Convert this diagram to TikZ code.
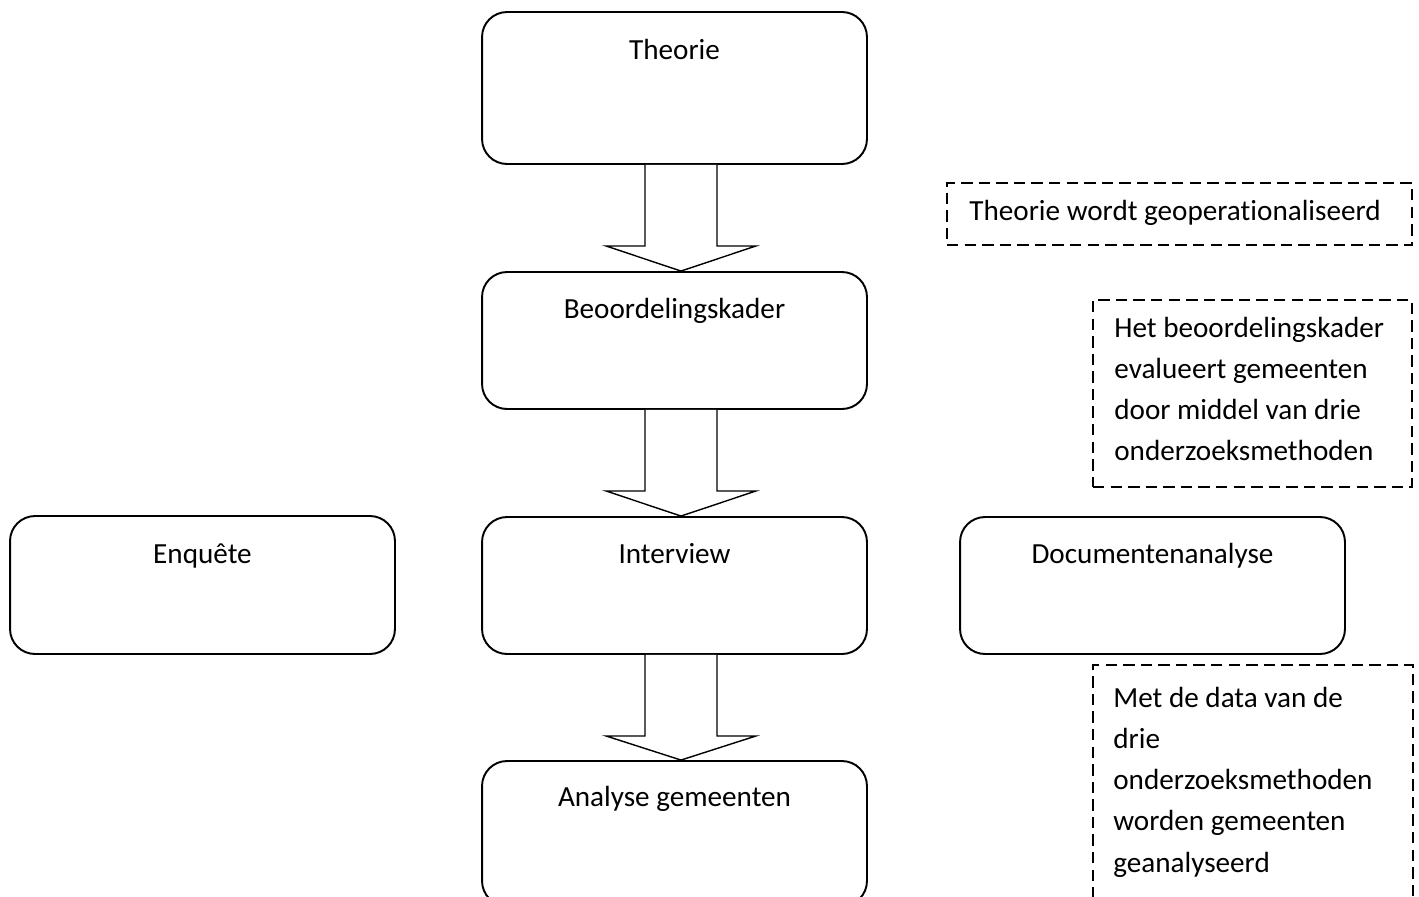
\documentclass[tikz,border=0pt]{standalone}
\usepackage{fontspec}
\setmainfont[Ligatures=CommonOff]{Carlito}
\usetikzlibrary{calc}
\begin{document}
\begin{tikzpicture}[x=0.02cm,y=-0.02cm,
  box/.style={draw, line width=1.1pt, rounded corners=0.5cm, minimum width=7.7cm, inner sep=0},
  lbl/.style={anchor=base, inner sep=0, font=\fontsize{16.6}{23.4}\selectfont},
  note/.style={draw, line width=0.85pt, dash pattern=on 6.5pt off 3.5pt, inner sep=0},
  ntext/.style={anchor=north west, align=left, inner sep=0, font=\fontsize{16.6}{23.4}\selectfont},
  barrow/.style={draw, line width=0.8pt, fill=white, line join=miter}
]
\useasboundingbox (0,0) rectangle (1419,896);
\clip (0,0) rectangle (1419,896);

% main boxes
\node[box, minimum height=3.04cm] (theorie) at (674.5,88) {};
\node[lbl] (theorieT) at (674.5,59) {Theorie};
\node[box, minimum height=2.74cm] (beoord) at (674.5,340.5) {};
\node[lbl] (beoordT) at (674.5,318) {Beoordelingskader};
\node[box, minimum height=2.76cm] (enquete) at (202.5,585) {};
\node[lbl] (enqueteT) at (202.5,563) {Enquête};
\node[box, minimum height=2.74cm] (interview) at (674.5,585.5) {};
\node[lbl] (interviewT) at (674.5,563) {Interview};
\node[box, minimum height=2.74cm] (docu) at (1152.5,585.5) {};
\node[lbl] (docuT) at (1152.5,563) {Documentenanalyse};
\node[box, minimum height=2.9cm] (analyse) at (674.5,833.5) {};
\node[lbl] (analyseT) at (674.5,806) {Analyse gemeenten};

% block arrows
\foreach \a/\b in {theorie/beoord, beoord/interview, interview/analyse}{
  \draw[barrow] ($(\a.south)+(-29.5,0)$) -- ++(0,81) -- ++(-39,0)
     -- ($(\b.north)+(6.5,0)$) -- ($(\a.south)+(81.5,81)$) -- ++(-39,0)
     -- ($(\a.south)+(42.5,0)$);
}

% dashed notes
\node[note, minimum width=9.3cm, minimum height=1.24cm] (n1) at (1179.5,214) {};
\node[lbl, anchor=base west] (n1T) at (969,220) {Theorie wordt geoperationaliseerd};
\node[note, minimum width=6.38cm, minimum height=3.74cm] (n2) at (1252.5,393.5) {};
\node[ntext] (n2T) at (1114,317) {Het beoordelingskader\\evalueert gemeenten\\door middel van drie\\onderzoeksmethoden};
\node[note, minimum width=6.4cm, minimum height=4.9cm] (n3) at (1253,787.5) {};
\node[ntext] (n3T) at (1113,687) {Met de data van de\\drie\\onderzoeksmethoden\\worden gemeenten\\geanalyseerd};
\end{tikzpicture}
\end{document}
